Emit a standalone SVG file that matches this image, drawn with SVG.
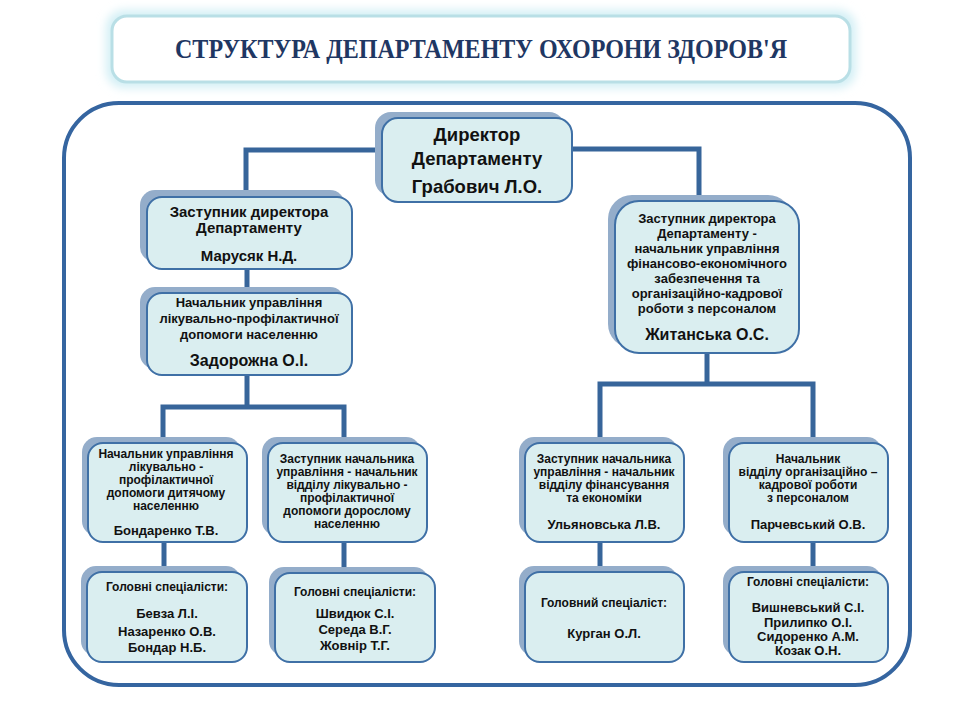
<svg xmlns="http://www.w3.org/2000/svg" width="960" height="720" viewBox="0 0 960 720">
<defs>
<filter id="glow" x="-10%" y="-40%" width="120%" height="180%"><feGaussianBlur stdDeviation="5"/></filter>
<style>
.sh{fill:#94adca;}
.bx{fill:#daeef0;stroke:#3f70a6;stroke-width:2;}
.t{font-family:"Liberation Sans",Arial,sans-serif;font-weight:bold;fill:#111;text-anchor:middle;}
.s12{font-size:12px;}
.s13{font-size:13px;}
.s15{font-size:15px;}
.s16{font-size:16px;}
.s18{font-size:18.5px;}
.cn{stroke:#37659a;stroke-width:5;fill:none;stroke-linejoin:miter;}
</style>
</defs>
<rect width="960" height="720" fill="#fff"/>
<g id="title">
<rect x="106" y="10" width="750" height="78" rx="18" fill="#d3eff5" filter="url(#glow)"/>
<rect x="112" y="16" width="738" height="66" rx="15" fill="#fff" stroke="#b9dfe6" stroke-width="3"/>
<text x="481" y="58" font-family="'Liberation Serif','Times New Roman',serif" font-weight="bold" font-size="28" fill="#1f3763" text-anchor="middle" textLength="612" lengthAdjust="spacingAndGlyphs">СТРУКТУРА ДЕПАРТАМЕНТУ ОХОРОНИ ЗДОРОВ'Я</text>
</g>
<rect id="frame" x="64" y="103" width="846" height="582" rx="55" fill="none" stroke="#3565a0" stroke-width="4"/>
<g id="connectors">
<polyline class="cn" points="382,150 246,150 246,197"/>
<polyline class="cn" points="572,149 699,149 699,201"/>
<line class="cn" x1="247" y1="268" x2="247" y2="293"/>
<line class="cn" x1="247" y1="375" x2="247" y2="407"/>
<polyline class="cn" points="163,443 163,407 344,407 344,443"/>
<line class="cn" x1="707" y1="353" x2="707" y2="384"/>
<polyline class="cn" points="600,443 600,384 813,384 813,443"/>
<line class="cn" x1="164" y1="542" x2="164" y2="572"/>
<line class="cn" x1="344" y1="542" x2="344" y2="573"/>
<line class="cn" x1="600" y1="542" x2="600" y2="572"/>
<line class="cn" x1="813" y1="542" x2="813" y2="572"/>
</g>
<g id="director">
<rect class="sh" x="375" y="112" width="190" height="84" rx="16"/>
<rect class="bx" x="382" y="118" width="190" height="84" rx="16"/>
<text class="t s18" x="477" y="141">Директор</text>
<text class="t s18" x="477" y="165">Департаменту</text>
<text class="t s18" x="477" y="193">Грабович Л.О.</text>
</g>
<g id="deputy-left">
<rect class="sh" x="140" y="190" width="205" height="72" rx="15"/>
<rect class="bx" x="147" y="197" width="205" height="72" rx="15"/>
<text class="t s15" x="249" y="217">Заступник директора</text>
<text class="t s15" x="249" y="233">Департаменту</text>
<text class="t s15" x="249" y="261">Марусяк Н.Д.</text>
</g>
<g id="deputy-right">
<rect class="sh" x="608" y="195" width="184" height="153" rx="24"/>
<rect class="bx" x="615" y="201" width="184" height="152" rx="24"/>
<text class="t s13" x="707" y="223">Заступник директора</text>
<text class="t s13" x="707" y="238">Департаменту  -</text>
<text class="t s13" x="707" y="253">начальник управління</text>
<text class="t s13" x="707" y="268">фінансово-економічного</text>
<text class="t s13" x="707" y="283">забезпечення та</text>
<text class="t s13" x="707" y="298">організаційно-кадрової</text>
<text class="t s13" x="707" y="313">роботи  з персоналом</text>
<text class="t s16" x="707" y="340">Житанська О.С.</text>
</g>
<g id="head-medical">
<rect class="sh" x="140" y="287" width="205" height="82" rx="15"/>
<rect class="bx" x="147" y="293" width="205" height="82" rx="15"/>
<text class="t s13" x="249" y="307">Начальник управління</text>
<text class="t s13" x="249" y="323">лікувально-профілактичної</text>
<text class="t s13" x="249" y="339">допомоги  населенню</text>
<text class="t s16" x="249" y="366">Задорожна О.І.</text>
</g>
<g id="head-children">
<rect class="sh" x="82" y="437" width="159" height="99" rx="15"/>
<rect class="bx" x="88" y="443" width="159" height="99" rx="15"/>
<text class="t s12" x="166" y="458">Начальник управління</text>
<text class="t s12" x="166" y="471">лікувально -</text>
<text class="t s12" x="166" y="484">профілактичної</text>
<text class="t s12" x="166" y="497">допомоги  дитячому</text>
<text class="t s12" x="166" y="510">населенню</text>
<text class="t s13" x="166" y="535">Бондаренко Т.В.</text>
</g>
<g id="deputy-adults">
<rect class="sh" x="262" y="437" width="159" height="99" rx="15"/>
<rect class="bx" x="268" y="443" width="159" height="99" rx="15"/>
<text class="t s12" x="347" y="463">Заступник начальника</text>
<text class="t s12" x="347" y="476">управління  - начальник</text>
<text class="t s12" x="347" y="489">відділу лікувально -</text>
<text class="t s12" x="347" y="502">профілактичної</text>
<text class="t s12" x="347" y="515">допомоги  дорослому</text>
<text class="t s12" x="347" y="528">населенню</text>
</g>
<g id="deputy-finance">
<rect class="sh" x="519" y="437" width="159" height="99" rx="15"/>
<rect class="bx" x="525" y="443" width="159" height="99" rx="15"/>
<text class="t s12" x="604" y="463">Заступник начальника</text>
<text class="t s12" x="604" y="476">управління  - начальник</text>
<text class="t s12" x="604" y="489">відділу фінансування</text>
<text class="t s12" x="604" y="502">та економіки</text>
<text class="t s13" x="604" y="529">Ульяновська Л.В.</text>
</g>
<g id="head-hr">
<rect class="sh" x="723" y="437" width="159" height="99" rx="15"/>
<rect class="bx" x="729" y="443" width="159" height="99" rx="15"/>
<text class="t s12" x="808" y="463">Начальник</text>
<text class="t s12" x="808" y="476">відділу організаційно  –</text>
<text class="t s12" x="808" y="489">кадрової роботи</text>
<text class="t s12" x="808" y="502">з персоналом</text>
<text class="t s13" x="808" y="529">Парчевський О.В.</text>
</g>
<g id="spec-children">
<rect class="sh" x="81" y="566" width="160" height="90" rx="15"/>
<rect class="bx" x="87" y="572" width="160" height="90" rx="15"/>
<text class="t s12" x="167" y="591">Головні спеціалісти:</text>
<text class="t s13" x="167" y="618">Бевза Л.І.</text>
<text class="t s13" x="167" y="636">Назаренко О.В.</text>
<text class="t s13" x="167" y="652">Бондар Н.Б.</text>
</g>
<g id="spec-adults">
<rect class="sh" x="269" y="567" width="160" height="89" rx="15"/>
<rect class="bx" x="275" y="573" width="160" height="89" rx="15"/>
<text class="t s12" x="355" y="596">Головні спеціалісти:</text>
<text class="t s13" x="355" y="618">Швидюк  С.І.</text>
<text class="t s13" x="355" y="634">Середа В.Г.</text>
<text class="t s13" x="355" y="650">Жовнір Т.Г.</text>
</g>
<g id="spec-finance">
<rect class="sh" x="519" y="566" width="159" height="90" rx="15"/>
<rect class="bx" x="525" y="572" width="159" height="90" rx="15"/>
<text class="t s12" x="604" y="607">Головний  спеціаліст:</text>
<text class="t s13" x="604" y="638">Курган О.Л.</text>
</g>
<g id="spec-hr">
<rect class="sh" x="723" y="566" width="159" height="90" rx="15"/>
<rect class="bx" x="729" y="572" width="159" height="90" rx="15"/>
<text class="t s12" x="808" y="586">Головні спеціалісти:</text>
<text class="t s13" x="808" y="612">Вишневський  С.І.</text>
<text class="t s13" x="808" y="627">Прилипко О.І.</text>
<text class="t s13" x="808" y="641">Сидоренко А.М.</text>
<text class="t s13" x="808" y="655">Козак О.Н.</text>
</g>
</svg>
